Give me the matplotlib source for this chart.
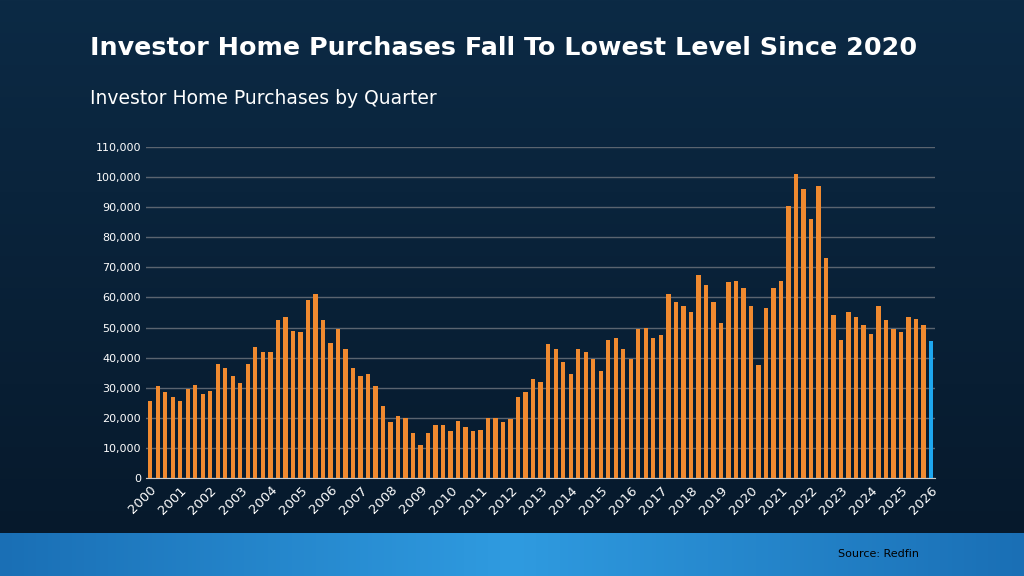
import matplotlib.pyplot as plt
import numpy as np

years = list(range(2000, 2027))
purchases = [
    25.5, 30.5, 28.5, 27, 25.5, 29.5, 31, 28, 29, 38, 36.5, 34, 31.5, 38, 43.5, 42,
    42, 52.5, 53.5, 49, 48.5, 59, 61, 52.5, 45, 49.5, 43, 36.5, 34, 34.5, 30.5, 24,
    18.5, 20.5, 20, 15, 11, 15, 17.5, 17.5, 15.5, 19, 17, 15.5, 16, 20, 20, 18.5,
    19.5, 27, 28.5, 33, 32, 44.5, 43, 38.5, 34.5, 43, 42, 39.5, 35.5, 46, 46.5, 43,
    39.5, 49.5, 50, 46.5, 47.5, 61, 58.5, 57, 55, 67.5, 64, 58.5, 51.5, 65, 65.5, 63,
    57, 37.5, 56.5, 63, 65.5, 90.5, 101, 96, 86, 97, 73, 54, 46, 55, 53.5, 51,
    48, 57, 52.5, 49.5, 48.5, 53.5, 53, 51, 45.5,
]
values = np.array(purchases) * 1000

fig = plt.figure(figsize=(10.24, 5.76), dpi=100)
bg = fig.add_axes([0, 0, 1, 1], zorder=-1)
grad = np.linspace(0, 1, 256).reshape(-1, 1)
bg.imshow(grad, aspect="auto", cmap=plt.matplotlib.colors.LinearSegmentedColormap.from_list(
    "g", ["#0c2a45", "#06182a"]), extent=[0, 1, 0, 1])
band = np.linspace(0, 1, 256).reshape(1, -1)
bg.imshow(band, aspect="auto", cmap=plt.matplotlib.colors.LinearSegmentedColormap.from_list(
    "b", ["#1a6fb5", "#2f9be0", "#1a6fb5"]), extent=[0, 1, 0, 0.073])
bg.set_xlim(0, 1)
bg.set_ylim(0, 1)
bg.axis("off")

fig.text(0.088, 0.905, "Investor Home Purchases Fall To Lowest Level Since 2020",
         color="white", fontsize=18.3, fontweight="bold")
fig.text(0.088, 0.82, "Investor Home Purchases by Quarter", color="white", fontsize=13.5)
fig.text(0.897, 0.033, "Source: Redfin", color="black", fontsize=8, ha="right")

ax = fig.add_axes([0.143, 0.17, 0.77, 0.575])
ax.set_facecolor("none")
x = np.arange(len(values))
colors = ["#f08a30"] * (len(values) - 1) + ["#1ea7f0"]
ax.bar(x, values, width=0.58, color=colors, zorder=3)
ax.set_xlim(-0.5, len(values) - 0.5)
ax.set_ylim(0, 110000)
ax.set_yticks(np.arange(0, 110001, 10000))
ax.set_yticklabels([f"{v:,}" for v in range(0, 110001, 10000)], color="white", fontsize=8)
ax.set_xticks(np.arange(0, len(values), 4))
ax.set_xticklabels(years, rotation=45, ha="right", rotation_mode="anchor",
                   color="white", fontsize=9.5)
ax.grid(axis="y", color="#5a6470", linewidth=1, zorder=0)
for s in ["top", "right", "left"]:
    ax.spines[s].set_visible(False)
ax.spines["bottom"].set_color("#c8c8c8")
ax.tick_params(length=0, pad=4)

fig.savefig("out.png", dpi=100)
